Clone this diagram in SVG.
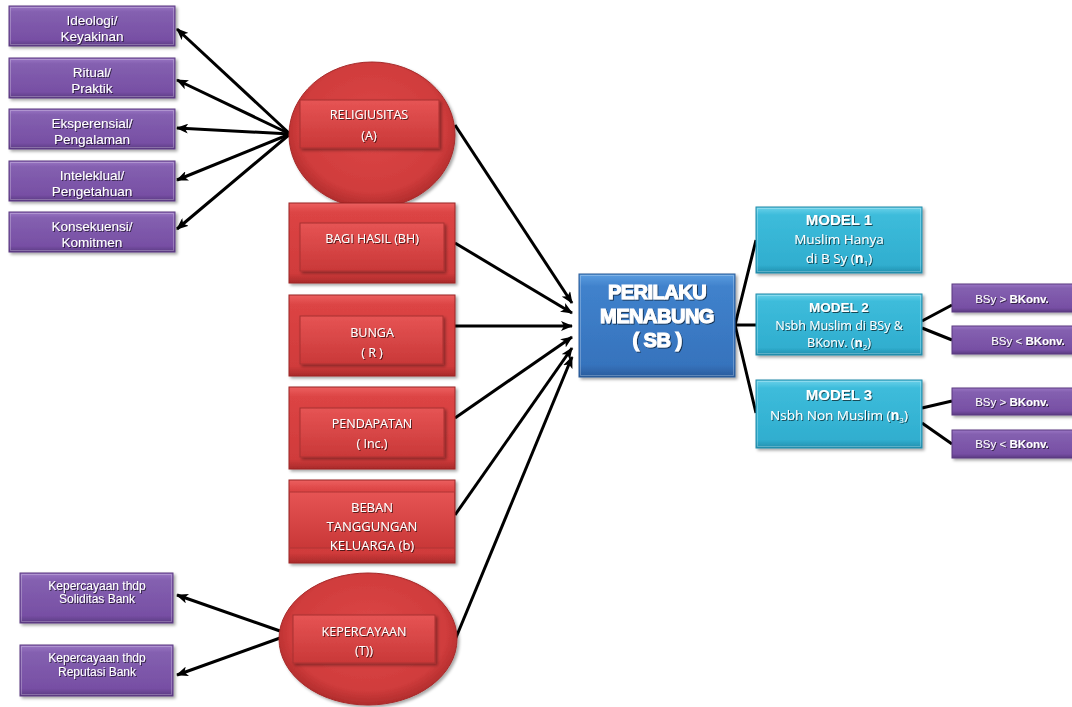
<svg xmlns="http://www.w3.org/2000/svg" width="1072" height="707" viewBox="0 0 1072 707">
<defs>
<linearGradient id="gP" x1="0" y1="0" x2="0" y2="1"><stop offset="0" stop-color="#9a76c4"/><stop offset="0.15" stop-color="#8460b0"/><stop offset="0.85" stop-color="#774fa4"/><stop offset="1" stop-color="#5b3a82"/></linearGradient>
<linearGradient id="gR" x1="0" y1="0" x2="0" y2="1"><stop offset="0" stop-color="#ec6060"/><stop offset="0.12" stop-color="#dc4444"/><stop offset="0.88" stop-color="#d03b3b"/><stop offset="1" stop-color="#a92a2a"/></linearGradient>
<linearGradient id="gRi" x1="0" y1="0" x2="0" y2="1"><stop offset="0" stop-color="#e65454"/><stop offset="1" stop-color="#c93838"/></linearGradient>
<radialGradient id="gE" cx="0.5" cy="0.45" r="0.55"><stop offset="0" stop-color="#dd4848"/><stop offset="0.8" stop-color="#d03c3c"/><stop offset="1" stop-color="#b02c2c"/></radialGradient>
<linearGradient id="gB" x1="0" y1="0" x2="0" y2="1"><stop offset="0" stop-color="#5b9de0"/><stop offset="0.12" stop-color="#4082cc"/><stop offset="0.88" stop-color="#3673bd"/><stop offset="1" stop-color="#2a5c9c"/></linearGradient>
<linearGradient id="gC" x1="0" y1="0" x2="0" y2="1"><stop offset="0" stop-color="#6cd2ea"/><stop offset="0.12" stop-color="#3dbcdb"/><stop offset="0.88" stop-color="#30aecf"/><stop offset="1" stop-color="#238fae"/></linearGradient>
<filter id="sh" x="-10%" y="-10%" width="125%" height="130%"><feDropShadow dx="2" dy="2" stdDeviation="1.5" flood-color="#000" flood-opacity="0.35"/></filter>
<filter id="ts" x="-10%" y="-30%" width="120%" height="160%"><feDropShadow dx="1" dy="1" stdDeviation="0.6" flood-color="#000" flood-opacity="0.6"/></filter>
<marker id="ah" viewBox="0 0 12 10" refX="11" refY="5" markerWidth="12" markerHeight="10" markerUnits="userSpaceOnUse" orient="auto"><path d="M0,0 L12,5 L0,10 L3,5 Z" fill="#000"/></marker>
<style>
.pb{fill:url(#gP);stroke:#5a3a80;stroke-width:1;filter:url(#sh)}
.rb{fill:url(#gR);stroke:#9a2626;stroke-width:1;filter:url(#sh)}
.ri{fill:url(#gRi);stroke:#a83030;stroke-width:1;filter:url(#sh)}
.el{fill:url(#gE);stroke:#a62a2a;stroke-width:1;filter:url(#sh)}
.bb{fill:url(#gB);stroke:#2a5a96;stroke-width:1;filter:url(#sh)}
.cb{fill:url(#gC);stroke:#228aa8;stroke-width:1;filter:url(#sh)}
.hl{fill:none;stroke:#fff;stroke-opacity:0.25;stroke-width:1}
.t{font-family:"Liberation Sans",Arial,sans-serif;fill:#fff;text-anchor:middle;filter:url(#ts)}
.tp{font-size:13.5px}
.ts{font-size:11.5px}
.tk{font-size:12px}
.tr{font-family:"Open Sans","Liberation Sans",sans-serif;font-size:12.5px}
.tb{font-family:"Liberation Sans",Arial,sans-serif;font-size:20px;font-weight:bold;stroke:#fff;stroke-width:1.1;letter-spacing:-0.5px}
.tm{font-family:"Open Sans","Liberation Sans",sans-serif;font-size:13.5px}
.bold{font-weight:bold}
.ln{stroke:#000;stroke-width:3;fill:none}
.la{stroke:#000;stroke-width:3;fill:none;marker-end:url(#ah)}
</style>
</defs>
<rect width="1072" height="707" fill="#fff"/>

<g id="connectors">
<line class="la" x1="290" y1="134" x2="177" y2="29"/>
<line class="la" x1="290" y1="134" x2="177" y2="80"/>
<line class="la" x1="290" y1="134" x2="177" y2="128"/>
<line class="la" x1="290" y1="134" x2="177" y2="180"/>
<line class="la" x1="290" y1="134" x2="177" y2="229"/>
<line class="la" x1="280" y1="631" x2="177" y2="595"/>
<line class="la" x1="280" y1="638" x2="177" y2="675"/>
<line class="la" x1="455" y1="125" x2="572" y2="303"/>
<line class="la" x1="455" y1="243" x2="572" y2="313"/>
<line class="la" x1="455" y1="326" x2="572" y2="326"/>
<line class="la" x1="455" y1="418" x2="572" y2="337"/>
<line class="la" x1="455" y1="515" x2="572" y2="348"/>
<line class="la" x1="455" y1="640" x2="572" y2="357"/>
<polyline class="ln" points="756,240 735,325 756,413"/>
<line class="ln" x1="735" y1="325" x2="756" y2="325"/>
<line class="ln" x1="922" y1="321" x2="952" y2="305"/>
<line class="ln" x1="922" y1="328" x2="952" y2="340"/>
<line class="ln" x1="922" y1="408" x2="952" y2="401"/>
<line class="ln" x1="922" y1="423" x2="952" y2="444"/>
</g>

<g id="n-ideologi"><rect class="pb" x="9" y="6" width="166" height="40"/><rect class="hl" x="10.5" y="7.5" width="163" height="37"/>
<text class="t tp" x="92" y="25">Ideologi/</text><text class="t tp" x="92" y="41">Keyakinan</text></g>
<g id="n-ritual"><rect class="pb" x="9" y="58" width="166" height="40"/><rect class="hl" x="10.5" y="59.5" width="163" height="37"/>
<text class="t tp" x="92" y="77">Ritual/</text><text class="t tp" x="92" y="93">Praktik</text></g>
<g id="n-eksperensial"><rect class="pb" x="9" y="109" width="166" height="40"/><rect class="hl" x="10.5" y="110.5" width="163" height="37"/>
<text class="t tp" x="92" y="128">Eksperensial/</text><text class="t tp" x="92" y="144">Pengalaman</text></g>
<g id="n-intelektual"><rect class="pb" x="9" y="161" width="166" height="40"/><rect class="hl" x="10.5" y="162.5" width="163" height="37"/>
<text class="t tp" x="92" y="180">Inteleklual/</text><text class="t tp" x="92" y="196">Pengetahuan</text></g>
<g id="n-konsekuensi"><rect class="pb" x="9" y="212" width="166" height="40"/><rect class="hl" x="10.5" y="213.5" width="163" height="37"/>
<text class="t tp" x="92" y="231">Konsekuensi/</text><text class="t tp" x="92" y="247">Komitmen</text></g>

<g id="n-religiusitas"><ellipse class="el" cx="372" cy="135" rx="83" ry="73"/>
<rect class="ri" x="300" y="100" width="139" height="48"/>
<text class="t tr" x="369" y="119">RELIGIUSITAS</text><text class="t tr" x="369" y="140">(A)</text></g>

<g id="n-bagihasil"><rect class="rb" x="289" y="203" width="166" height="80"/><rect class="ri" x="300" y="223" width="144" height="48"/>
<text class="t tr" x="372" y="243">BAGI HASIL (BH)</text></g>
<g id="n-bunga"><rect class="rb" x="289" y="295" width="166" height="81"/><rect class="ri" x="300" y="316" width="143" height="48"/>
<text class="t tr" x="372" y="337">BUNGA</text><text class="t tr" x="372" y="357">( R )</text></g>
<g id="n-pendapatan"><rect class="rb" x="289" y="387" width="166" height="82"/><rect class="ri" x="300" y="408" width="144" height="49"/>
<text class="t tr" x="372" y="428">PENDAPATAN</text><text class="t tr" x="372" y="448">( Inc.)</text></g>
<g id="n-beban"><rect class="rb" x="289" y="480" width="166" height="83"/><rect x="289.5" y="492" width="165" height="56" fill="url(#gRi)" stroke="#b03434" stroke-width="1"/>
<text class="t tr" x="372" y="512" style="font-size:13px">BEBAN</text><text class="t tr" x="372" y="531" style="font-size:13px">TANGGUNGAN</text><text class="t tr" x="372" y="550" style="font-size:13px">KELUARGA (b)</text></g>

<g id="n-kepercayaan"><ellipse class="el" cx="368" cy="639" rx="89" ry="66"/>
<rect class="ri" x="293" y="615" width="142" height="48"/>
<text class="t tr" x="364" y="636">KEPERCAYAAN</text><text class="t tr" x="364" y="655">(T))</text></g>

<g id="n-soliditas"><rect class="pb" x="20" y="573" width="153" height="50"/><rect class="hl" x="21.5" y="574.5" width="150" height="47"/>
<text class="t tk" x="97" y="590">Kepercayaan thdp</text><text class="t tk" x="97" y="603">Soliditas Bank</text></g>
<g id="n-reputasi"><rect class="pb" x="20" y="645" width="153" height="51"/><rect class="hl" x="21.5" y="646.5" width="150" height="48"/>
<text class="t tk" x="97" y="662">Kepercayaan thdp</text><text class="t tk" x="97" y="676">Reputasi Bank</text></g>

<g id="n-sb"><rect class="bb" x="579" y="274" width="156" height="103"/><rect class="hl" x="580.5" y="275.5" width="153" height="100"/>
<text class="t tb" x="657" y="299">PERILAKU</text>
<text class="t tb" x="657" y="323">MENABUNG</text>
<text class="t tb" x="657" y="347">( SB )</text></g>

<g id="n-model1"><rect class="cb" x="756" y="207" width="166" height="66"/><rect class="hl" x="757.5" y="208.5" width="163" height="63"/>
<text class="t bold" x="839" y="225" style="font-size:15px">MODEL 1</text>
<text class="t tm" x="839" y="244">Muslim Hanya</text>
<text class="t tm" x="839" y="263">di B Sy (<tspan font-weight="bold">n</tspan><tspan font-size="8" dy="3">1</tspan><tspan dy="-3">)</tspan></text></g>
<g id="n-model2"><rect class="cb" x="756" y="294" width="166" height="61"/><rect class="hl" x="757.5" y="295.5" width="163" height="58"/>
<text class="t bold" x="839" y="312" style="font-size:13.5px">MODEL 2</text>
<text class="t tm" x="839" y="330" style="font-size:12.5px">Nsbh Muslim di BSy  &amp;</text>
<text class="t tm" x="839" y="347" style="font-size:12.5px">BKonv. (<tspan font-weight="bold">n</tspan><tspan font-size="8" dy="3">2</tspan><tspan dy="-3">)</tspan></text></g>
<g id="n-model3"><rect class="cb" x="756" y="380" width="166" height="68"/><rect class="hl" x="757.5" y="381.5" width="163" height="65"/>
<text class="t bold" x="839" y="400" style="font-size:15px">MODEL 3</text>
<text class="t tm" x="839" y="420">Nsbh Non Muslim (<tspan font-weight="bold">n</tspan><tspan font-size="8" dy="3">3</tspan><tspan dy="-3">)</tspan></text></g>

<g id="n-m2-gt"><rect class="pb" x="952" y="284" width="125" height="28"/>
<text class="t ts" x="1012" y="303">BSy &gt; <tspan font-weight="bold">BKonv.</tspan></text></g>
<g id="n-m2-lt"><rect class="pb" x="952" y="326" width="125" height="28"/>
<text class="t ts" x="1028" y="345">BSy &lt; <tspan font-weight="bold">BKonv.</tspan></text></g>
<g id="n-m3-gt"><rect class="pb" x="952" y="388" width="125" height="27"/>
<text class="t ts" x="1012" y="406">BSy &gt; <tspan font-weight="bold">BKonv.</tspan></text></g>
<g id="n-m3-lt"><rect class="pb" x="952" y="430" width="125" height="28"/>
<text class="t ts" x="1012" y="448">BSy &lt; <tspan font-weight="bold">BKonv.</tspan></text></g>
</svg>
